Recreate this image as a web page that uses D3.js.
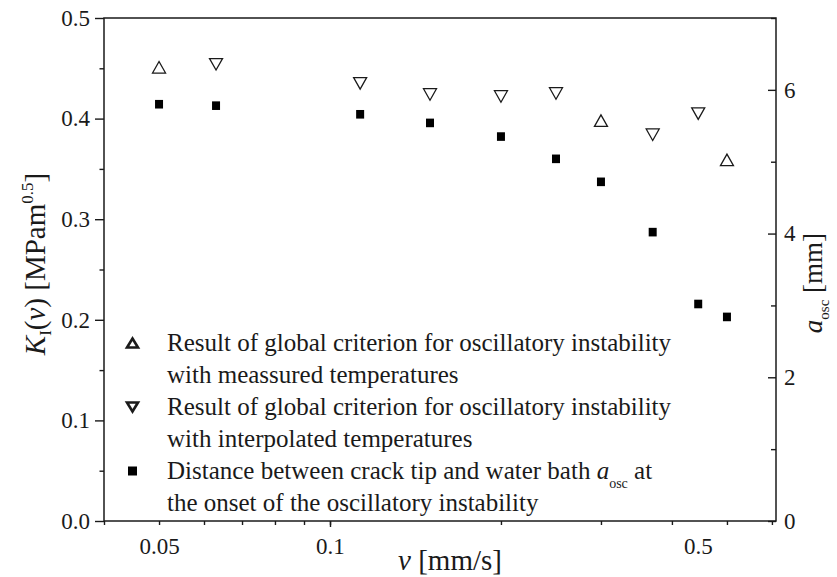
<!DOCTYPE html>
<html>
<head>
<meta charset="utf-8">
<script src="https://cdn.jsdelivr.net/npm/d3@7"></script>
<style>
  body { margin: 0; background: #fff; }
  svg, svg text { font-family: "Liberation Serif", "Times New Roman", serif; }
</style>
</head>
<body>
<div id="chart"></div>
<script>
// global criterion, measured temperatures (triangle up)
const vMeasured = [0.05, 0.3, 0.5]
const kMeasured = [0.451, 0.398, 0.359]

// global criterion, interpolated temperatures (triangle down)
const vInterp = [0.063, 0.113, 0.15, 0.2, 0.25, 0.37, 0.445]
const kInterp = [0.454, 0.435, 0.424, 0.422, 0.425, 0.384, 0.405]

// distance crack tip - water bath (right axis, mm)
const vOsc = [0.05, 0.063, 0.113, 0.15, 0.2, 0.25, 0.3, 0.37, 0.445, 0.5]
const aOsc = [5.80, 5.78, 5.66, 5.54, 5.35, 5.04, 4.72, 4.02, 3.02, 2.84]

const xTicks = [0.04, 0.05, 0.06, 0.07, 0.08, 0.09, 0.1, 0.2, 0.3, 0.4, 0.5, 0.6]
const xLabels = [0.05, 0.1, 0.5]
const yLeftTicks = [0, 0.1, 0.2, 0.3, 0.4, 0.5]
const yLeftMinor = [0.05, 0.15, 0.25, 0.35, 0.45]
const yRightTicks = [0, 2, 4, 6]
const yRightMinor = [1, 3, 5, 7]

const legendEntries = [
  { shape: 'up', lines: ['Result of global criterion for oscillatory instability', 'with meassured temperatures'] },
  { shape: 'down', lines: ['Result of global criterion for oscillatory instability', 'with interpolated temperatures'] },
  { shape: 'square', lines: ['Distance between crack tip and water bath ', 'the onset of the oscillatory instability'] }
]

const width = 837, height = 577
const plot = { left: 104, right: 776, top: 18, bottom: 521 }
const ink = '#1a1a1a'
const serif = '"Liberation Serif", "Times New Roman", serif'

const svg = d3.select('#chart').append('svg')
  .attr('width', width)
  .attr('height', height)

svg.append('rect').attr('width', width).attr('height', height).attr('fill', '#fff')

const x = d3.scaleLog().domain([0.04, 0.61]).range([plot.left, plot.right])
const yL = d3.scaleLinear().domain([0, 0.5]).range([plot.bottom, plot.top])
const yR = d3.scaleLinear().domain([0, 7]).range([plot.bottom, plot.top])

function styleAxis(g) {
  g.attr('font-family', null)
  g.select('.domain').remove()
  g.selectAll('line').attr('stroke', ink).attr('stroke-width', 1.4)
  g.selectAll('text').attr('fill', ink).attr('font-size', 23).style('font-family', serif)
}

// bottom axis
svg.append('g')
  .attr('transform', `translate(0,${plot.bottom})`)
  .call(d3.axisBottom(x).tickValues(xTicks).tickSize(4).tickFormat(''))
  .call(styleAxis)
svg.append('g')
  .attr('transform', `translate(0,${plot.bottom})`)
  .call(d3.axisBottom(x).tickValues([0.1]).tickSize(6).tickFormat(''))
  .call(styleAxis)
svg.append('g')
  .attr('transform', `translate(0,${plot.bottom})`)
  .call(d3.axisBottom(x).tickValues(xLabels).tickSize(0).tickPadding(17).tickFormat(d3.format('')))
  .call(styleAxis)
  .call(g => g.selectAll('.tick').filter(d => d === 0.5).select('text').attr('dx', -29))

// left axis
svg.append('g')
  .attr('transform', `translate(${plot.left},0)`)
  .call(d3.axisLeft(yL).tickValues(yLeftMinor).tickSize(4.5).tickFormat(''))
  .call(styleAxis)
svg.append('g')
  .attr('transform', `translate(${plot.left},0)`)
  .call(d3.axisLeft(yL).tickValues(yLeftTicks).tickSize(9).tickPadding(5).tickFormat(d3.format('.1f')))
  .call(styleAxis)

// right axis (ticks inward)
svg.append('g')
  .attr('transform', `translate(${plot.right},0)`)
  .call(d3.axisRight(yR).tickValues(yRightMinor).tickSize(-5).tickFormat(''))
  .call(styleAxis)
svg.append('g')
  .attr('transform', `translate(${plot.right},0)`)
  .call(d3.axisRight(yR).tickValues(yRightTicks).tickSize(-8).tickPadding(8).tickFormat(d3.format('d')))
  .call(styleAxis)

// frame
svg.append('rect')
  .attr('x', plot.left).attr('y', plot.top)
  .attr('width', plot.right - plot.left).attr('height', plot.bottom - plot.top)
  .attr('fill', 'none').attr('stroke', ink).attr('stroke-width', 1.5)

// markers
const triUp = (w, h) => `M0,${-h / 2}L${w / 2},${h / 2}L${-w / 2},${h / 2}Z`
const triDown = (w, h) => `M0,${h / 2}L${w / 2},${-h / 2}L${-w / 2},${-h / 2}Z`

svg.append('g').selectAll('path')
  .data(d3.zip(vMeasured, kMeasured))
  .enter().append('path')
  .attr('transform', d => `translate(${x(d[0])},${yL(d[1])})`)
  .attr('d', triUp(13, 11.5))
  .attr('fill', '#fff').attr('stroke', ink).attr('stroke-width', 1.3)

svg.append('g').selectAll('path')
  .data(d3.zip(vInterp, kInterp))
  .enter().append('path')
  .attr('transform', d => `translate(${x(d[0])},${yL(d[1])})`)
  .attr('d', triDown(13, 11.5))
  .attr('fill', '#fff').attr('stroke', ink).attr('stroke-width', 1.3)

svg.append('g').selectAll('rect')
  .data(d3.zip(vOsc, aOsc))
  .enter().append('rect')
  .attr('x', d => x(d[0]) - 4)
  .attr('y', d => yR(d[1]) - 4.3)
  .attr('width', 8).attr('height', 8.6)
  .attr('fill', '#000')

// legend
const legend = svg.append('g').attr('font-size', 25).attr('fill', ink)
legendEntries.forEach((e, i) => {
  const y0 = 343 + i * 64
  if (e.shape === 'square') {
    legend.append('rect').attr('x', 128).attr('y', y0 - 4.5).attr('width', 9).attr('height', 9).attr('fill', '#000')
  } else {
    legend.append('path')
      .attr('transform', `translate(132.5,${y0})`)
      .attr('d', e.shape === 'up' ? triUp(11, 9) : triDown(11, 9))
      .attr('fill', '#fff').attr('stroke', ink).attr('stroke-width', 2.6)
  }
  e.lines.forEach((line, j) => {
    const t = legend.append('text')
      .attr('x', 167)
      .attr('y', y0 + 8 + j * 32)
      .text(line)
    if (e.shape === 'square' && j === 0) {
      t.append('tspan').attr('font-style', 'italic').text('a')
      t.append('tspan').attr('font-size', 14).attr('dy', 9).text('osc')
      t.append('tspan').attr('dy', -9).text(' at')
    }
  })
})

// axis titles
const xt = svg.append('text')
  .attr('x', 450).attr('y', 570)
  .attr('text-anchor', 'middle').attr('font-size', 29).attr('fill', ink)
xt.append('tspan').attr('font-style', 'italic').text('v')
xt.append('tspan').text(' [mm/s]')

const lt = svg.append('text')
  .attr('transform', 'translate(45,264) rotate(-90)')
  .attr('text-anchor', 'middle').attr('font-size', 29).attr('fill', ink)
lt.append('tspan').attr('font-style', 'italic').text('K')
lt.append('tspan').attr('font-size', 17).attr('dy', 6).text('I')
lt.append('tspan').attr('dy', -6).text('(')
lt.append('tspan').attr('font-style', 'italic').text('v')
lt.append('tspan').text(') [MPam')
lt.append('tspan').attr('font-size', 17).attr('dy', -12).text('0.5')
lt.append('tspan').attr('dy', 12).text(']')

const rt = svg.append('text')
  .attr('transform', 'translate(822,283) rotate(-90)')
  .attr('text-anchor', 'middle').attr('font-size', 27).attr('fill', ink)
rt.append('tspan').attr('font-style', 'italic').text('a')
rt.append('tspan').attr('font-size', 15).attr('dy', 7).text('osc')
rt.append('tspan').attr('dy', -7).text(' [mm]')
</script>
</body>
</html>
